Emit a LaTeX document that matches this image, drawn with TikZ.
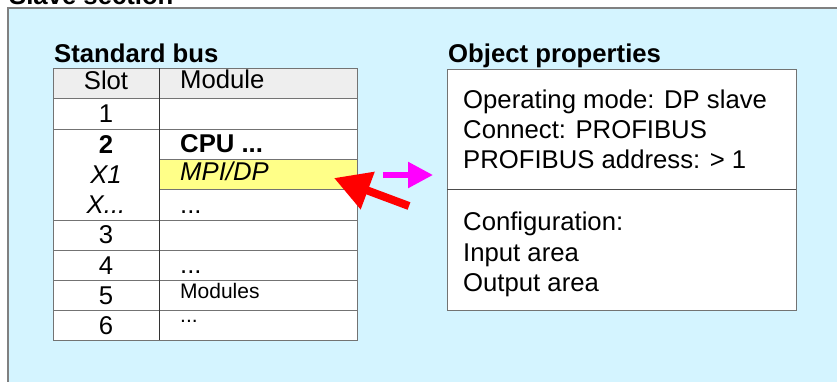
\documentclass[tikz,border=0pt]{standalone}
\usepackage{fontspec}
\setmainfont{Liberation Sans}
\usetikzlibrary{positioning,arrows.meta}
\definecolor{bgcyan}{RGB}{212,244,255}
\definecolor{rowyellow}{RGB}{255,255,136}
\definecolor{headgray}{RGB}{238,238,238}
\definecolor{pinkarrow}{RGB}{255,0,255}
\definecolor{redarrow}{RGB}{255,0,0}

\begin{document}
\begin{tikzpicture}[x=1pt, y=-1pt,
        txt/.style={font=\fontsize{25.7}{30}\selectfont, inner sep=0pt, anchor=base},
        txtl/.style={txt, anchor=base west},
        small/.style={font=\fontsize{21}{25}\selectfont, inner sep=0pt, anchor=base west},
        title/.style={txtl, font=\fontsize{25.7}{30}\selectfont\bfseries},
        grid/.style={draw=black!55, line width=0.8pt},
        pointer/.style={line width=#1, line cap=butt}]
    \useasboundingbox (0,0) rectangle (837,381);

    % slave section frame
    \draw[draw=gray, line width=1.2pt, fill=bgcyan] (8,8) rectangle (900,450);
    \node[title] (slave) at (9,4.5) {Slave section};

    % standard bus table
    \node[title] (busttl) at (54,62) {Standard bus};
    \fill[headgray] (53,68) rectangle (357,98);
    \fill[white] (53,98) rectangle (357,340);
    \draw[grid, fill=rowyellow] (159,159) rectangle (357,189);
    \draw[grid] (53,68) rectangle (357,340);
    \draw[grid] (53,98) -- (357,98);
    \draw[grid] (53,129) -- (357,129);
    \draw[grid] (53,220) -- (357,220);
    \draw[grid] (53,250) -- (357,250);
    \draw[grid] (53,280) -- (357,280);
    \draw[grid] (53,310) -- (357,310);
    \draw[line width=0.8pt, draw=black!80] (159,68) -- (159,340);

    \node[txt] (slothd) at (106,89) {Slot};
    \node[txtl] (modhd) at (180,88) {Module};
    \node[txt] (s1) at (106,122) {1};
    \node[txt, font=\fontsize{25.7}{30}\selectfont\bfseries] (s2) at (106,153) {2};
    \node[txt, font=\fontsize{25.7}{30}\selectfont\itshape] (sx1) at (106,183) {X1};
    \node[txt, font=\fontsize{25.7}{30}\selectfont\itshape] (sxn) at (106,213) {X...};
    \node[txt] (s3) at (106,243) {3};
    \node[txt] (s4) at (106,274) {4};
    \node[txt] (s5) at (106,304) {5};
    \node[txt] (s6) at (106,334) {6};

    \node[txtl, font=\fontsize{25.7}{30}\selectfont\bfseries] (cpu) at (180,152) {CPU ...};
    \node[txtl, font=\fontsize{25.7}{30}\selectfont\itshape] (mpi) at (180,180) {MPI/DP};
    \node[txtl] (mxn) at (180,213) {...};
    \node[txtl] (m4) at (180,273) {...};
    \node[small] (m5) at (180,298) {Modules};
    \node[small] (m6) at (180,322) {...};

    % object properties
    \node[title] (objttl) at (448,62) {Object properties};
    \draw[draw=black!55, line width=0.8pt, fill=white] (447,69) rectangle (796,310);
    \draw[draw=black!70, line width=0.8pt] (447,189) -- (796,189);
    \node[txtl] (opmode) at (463,108) {Operating mode: DP slave};
    \node[txtl] (conn) at (463,138) {Connect: PROFIBUS};
    \node[txtl] (addr) at (463,168) {PROFIBUS address: > 1};
    \node[txtl] (config) at (463,230) {Configuration:};
    \node[txtl] (inarea) at (463,261) {Input area};
    \node[txtl] (outarea) at (463,291) {Output area};

    % arrows
    \coordinate (magtail) at (383,175);
    \coordinate (magtip) at (433,175);
    \coordinate (redtail) at (409,206);
    \coordinate (redtip) at (334,178);
    \draw[pinkarrow, pointer=5.5pt, -{Triangle[length=25pt, width=25pt]}] (magtail) -- (magtip);
    \draw[redarrow, pointer=8pt, -{Triangle[length=36pt, width=38pt]}] (redtail) -- (redtip);
\end{tikzpicture}
\end{document}
